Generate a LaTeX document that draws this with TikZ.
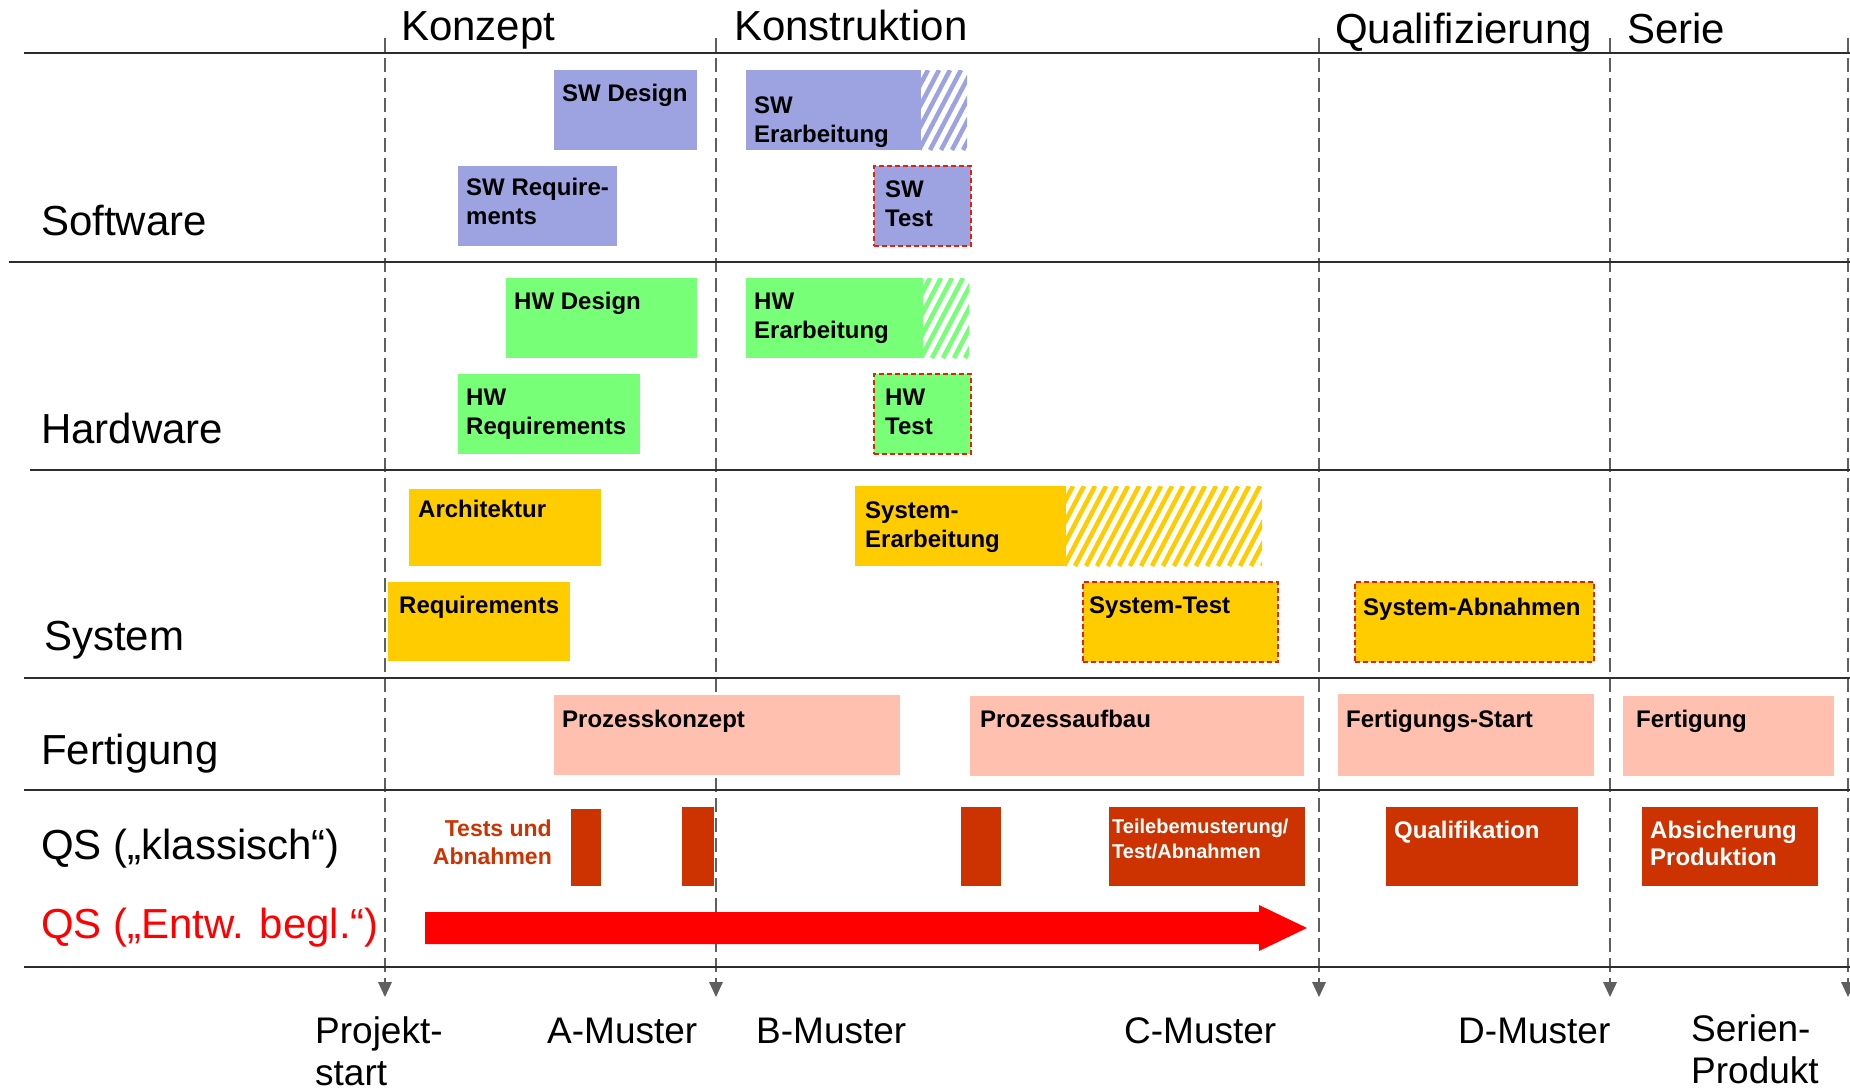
\documentclass[tikz,border=0pt]{standalone}
\usepackage{fontspec}
\setmainfont{Liberation Sans}
\usetikzlibrary{calc}

\definecolor{swblue}{RGB}{157,163,224}
\definecolor{hwgreen}{RGB}{119,255,119}
\definecolor{sysyellow}{RGB}{255,204,0}
\definecolor{fertsalmon}{RGB}{255,192,176}
\definecolor{qsred}{RGB}{204,51,0}
\definecolor{gridgray}{RGB}{95,95,95}
\definecolor{rulegray}{RGB}{45,45,45}
\definecolor{testred}{RGB}{225,35,10}

\tikzset{
  rowline/.style={draw=rulegray, line width=2.6pt},
  phaseline/.style={draw=gridgray, line width=1.4pt, dash pattern=on 14pt off 6pt},
  marker/.style={fill=gridgray, draw=none},
  bar/.style={draw=none, inner sep=0pt, outer sep=0pt, anchor=north west},
  testbox/.style={draw=testred, line width=1.8pt, dash pattern=on 5pt off 3pt},
  bigtext/.style={anchor=base west, inner sep=0pt, font=\fontsize{42}{50}\selectfont},
  mstext/.style={anchor=base west, inner sep=0pt, align=left, font=\fontsize{37}{42}\selectfont},
  boxtext/.style={anchor=base west, inner sep=0pt, align=left, font=\fontsize{24}{29}\selectfont\bfseries},
  qstext/.style={boxtext, text=white},
}

% task bar: name, x1, y1, x2, y2, options
\newcommand\taskbar[6]{%
  \node[bar, #6, minimum width={(#4-#2)*1pt}, minimum height={(#5-#3)*1pt}] (#1) at (#2,#3) {};}

% diagonal stripes for the open end of a bar: x1, y1, x2, y2, colour
\newcommand\stripes[5]{%
  \begin{scope}
    \clip (#1,#2) rectangle (#3,#4);
    \pgfmathsetmacro\stripecount{ceil((#3-#1+48)/11)}
    \foreach \k in {0,...,\stripecount}
      \draw[#5, line width=4.5pt] ({#1-46+11*\k},#4) -- ++({0.525*(#4-#2)},{-(#4-#2)});
  \end{scope}}

% Multi-line labels are placed by the baseline of their last line.
\begin{document}
\begin{tikzpicture}[x=1pt, y=-1pt]
\useasboundingbox (0,0) rectangle (1850,1090);

% phase boundaries with milestone markers
\foreach \mx/\mn in {385/m0, 716/m1, 1319/m2, 1610/m3, 1848/m4} {
  \coordinate (\mn top) at (\mx,38);
  \coordinate (\mn) at (\mx,982);
  \draw[phaseline] (\mn top) -- (\mn);
  \fill[marker] ($(\mn)+(-7,0)$) -- ($(\mn)+(7,0)$) -- ($(\mn)+(0,15)$) -- cycle;
}

% row separators
\coordinate (r0a) at (24,53);  \coordinate (r0b) at (1850,53);
\coordinate (r1a) at (9,262);  \coordinate (r1b) at (1850,262);
\coordinate (r2a) at (30,470); \coordinate (r2b) at (1850,470);
\coordinate (r3a) at (24,678); \coordinate (r3b) at (1850,678);
\coordinate (r4a) at (24,790); \coordinate (r4b) at (1850,790);
\coordinate (r5a) at (24,967); \coordinate (r5b) at (1850,967);
\foreach \r in {0,...,5} \draw[rowline] (r\r a) -- (r\r b);

% phase headings
\node[bigtext] (hKonzept) at (401,40) {Konzept};
\node[bigtext] (hKonstr) at (734,40) {Konstruktion};
\node[bigtext] (hQuali) at (1335,43) {Qualifizierung};
\node[bigtext] (hSerie) at (1627,43) {Serie};

% row headings
\node[bigtext] (lSW) at (41,235) {Software};
\node[bigtext] (lHW) at (41,443) {Hardware};
\node[bigtext] (lSys) at (44,650) {System};
\node[bigtext] (lFert) at (41,764) {Fertigung};
\node[bigtext] (lQSk) at (41,859) {QS („klassisch“)};
\node[bigtext, text=red] (lQSe) at (41,938) {QS („Entw. begl.“)};

% Software
\taskbar{swdes}{554}{70}{697}{150}{fill=swblue}
\node[boxtext] at ($(swdes.north west)+(8,31)$) {SW Design};
\taskbar{swerb}{746}{70}{921}{150}{fill=swblue}
\stripes{921}{70}{967}{150}{swblue}
\node[boxtext] at ($(swerb.north west)+(8,72)$) {SW\\Erarbeitung};
\taskbar{swreq}{458}{166}{617}{246}{fill=swblue}
\node[boxtext] at ($(swreq.north west)+(8,58)$) {SW Require-\\ments};
\taskbar{swtst}{874}{166}{971}{246}{fill=swblue, testbox}
\node[boxtext] at ($(swtst.north west)+(11,60)$) {SW\\Test};

% Hardware
\taskbar{hwdes}{506}{278}{697}{358}{fill=hwgreen}
\node[boxtext] at ($(hwdes.north west)+(8,31)$) {HW Design};
\taskbar{hwerb}{746}{278}{923}{358}{fill=hwgreen}
\stripes{923}{278}{969}{358}{hwgreen}
\node[boxtext] at ($(hwerb.north west)+(8,60)$) {HW\\Erarbeitung};
\taskbar{hwreq}{458}{374}{640}{454}{fill=hwgreen}
\node[boxtext] at ($(hwreq.north west)+(8,60)$) {HW\\Requirements};
\taskbar{hwtst}{874}{374}{971}{454}{fill=hwgreen, testbox}
\node[boxtext] at ($(hwtst.north west)+(11,60)$) {HW\\Test};

% System
\taskbar{arch}{409}{489}{601}{566}{fill=sysyellow}
\node[boxtext] at ($(arch.north west)+(9,28)$) {Architektur};
\taskbar{syserb}{855}{486}{1066}{566}{fill=sysyellow}
\stripes{1066}{486}{1262}{566}{sysyellow}
\node[boxtext] at ($(syserb.north west)+(10,61)$) {System-\\Erarbeitung};
\taskbar{sysreq}{388}{582}{570}{661}{fill=sysyellow}
\node[boxtext] at ($(sysreq.north west)+(11,31)$) {Requirements};
\taskbar{systst}{1083}{582}{1278}{662}{fill=sysyellow, testbox}
\node[boxtext] at ($(systst.north west)+(6,31)$) {System-Test};
\taskbar{sysabn}{1355}{582}{1594}{662}{fill=sysyellow, testbox}
\node[boxtext] at ($(sysabn.north west)+(8,33)$) {System-Abnahmen};

% Fertigung
\taskbar{pk}{554}{695}{900}{775}{fill=fertsalmon}
\node[boxtext] at ($(pk.north west)+(8,32)$) {Prozesskonzept};
\taskbar{pa}{970}{696}{1304}{776}{fill=fertsalmon}
\node[boxtext] at ($(pa.north west)+(10,31)$) {Prozessaufbau};
\taskbar{fs}{1338}{694}{1594}{776}{fill=fertsalmon}
\node[boxtext] at ($(fs.north west)+(8,33)$) {Fertigungs-Start};
\taskbar{fe}{1623}{696}{1834}{776}{fill=fertsalmon}
\node[boxtext] at ($(fe.north west)+(13,31)$) {Fertigung};

% QS (klassisch)
\node[anchor=base east, inner sep=0pt, align=right, text=qsred,
      font=\fontsize{23}{28}\selectfont\bfseries] (tua) at (552,864) {Tests und\\Abnahmen};
\taskbar{qb1}{571}{809}{601}{886}{fill=qsred}
\taskbar{qb2}{682}{807}{714}{886}{fill=qsred}
\taskbar{qb3}{961}{807}{1001}{886}{fill=qsred}
\taskbar{qtb}{1109}{807}{1305}{886}{fill=qsred}
\node[qstext, font=\fontsize{20}{25}\selectfont\bfseries] at ($(qtb.north west)+(3,51)$) {Teilebemusterung/\\Test/Abnahmen};
\taskbar{qq}{1386}{807}{1578}{886}{fill=qsred}
\node[qstext] at ($(qq.north west)+(8,31)$) {Qualifikation};
\taskbar{qa}{1642}{807}{1818}{886}{fill=qsred}
\node[qstext, font=\fontsize{24}{27}\selectfont\bfseries] at ($(qa.north west)+(8,58)$) {Absicherung\\Produktion};

% QS (entwicklungsbegleitend): continuous arrow
\coordinate (qsA) at (425,928);
\coordinate (qsB) at (1307,928);
\fill[red] ($(qsA)+(0,-16)$) -- ($(qsB)+(-48,-16)$) -- ($(qsB)+(-48,-23)$) -- (qsB)
  -- ($(qsB)+(-48,23)$) -- ($(qsB)+(-48,16)$) -- ($(qsA)+(0,16)$) -- cycle;

% milestones
\node[mstext] (tm0) at (315,1085) {Projekt-\\start};
\node[mstext] (tm1) at (547,1043) {A-Muster};
\node[mstext] (tm2) at (756,1043) {B-Muster};
\node[mstext] (tm3) at (1124,1043) {C-Muster};
\node[mstext] (tm4) at (1458,1043) {D-Muster};
\node[mstext] (tm5) at (1691,1083) {Serien-\\Produkt};
\end{tikzpicture}
\end{document}
